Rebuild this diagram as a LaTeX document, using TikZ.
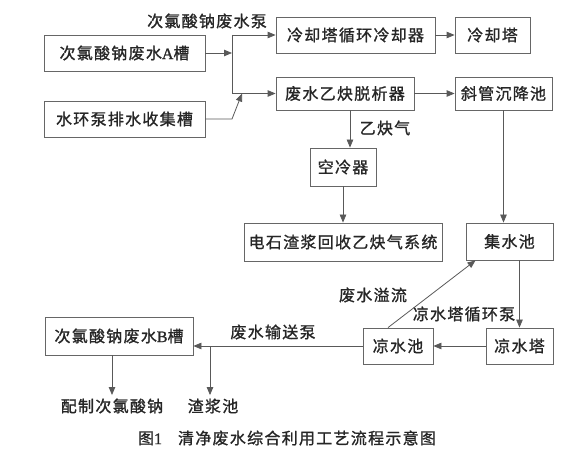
\documentclass[tikz,border=0pt]{standalone}
\usepackage{fontspec}
\setmainfont{Noto Sans CJK SC}[LetterSpace=8, FakeBold=1.2]
\newfontfamily\lat{Liberation Serif}[FakeBold=1.2]
\usetikzlibrary{arrows.meta}

\begin{document}
\begin{tikzpicture}[x=1pt, y=-1pt, every node/.style={font=\fontsize{16}{19}\selectfont, text=black!85},
  box/.style={draw=black!60, line width=0.8pt, inner sep=0pt, minimum height=36pt},
  arr/.style={black!65, line width=0.8pt, -{Triangle[length=8pt,width=6.5pt]}}]
  \useasboundingbox (0,0) rectangle (581,454);
  \node[box, minimum width=161pt] (atank) at (124.5,53) {次氯酸钠废水{\lat A}槽};
  \node[box, minimum width=161pt] (wtank) at (124.5,119) {水环泵排水收集槽};
  \node[box, minimum width=159pt] (cooler) at (355.5,35) {冷却塔循环冷却器};
  \node[box, minimum width=75pt] (tower) at (492.5,35) {冷却塔};
  \node[box, minimum width=138pt, minimum height=33pt] (strip) at (345,93.5) {废水乙炔脱析器};
  \node[box, minimum width=97pt, minimum height=33pt] (settle) at (503.5,93.5) {斜管沉降池};
  \node[box, minimum width=66pt, minimum height=38pt] (aircool) at (343,167) {空冷器};
  \node[box, minimum width=198pt, minimum height=38pt] (recov) at (343,242) {电石渣浆回收乙炔气系统};
  \node[box, minimum width=87pt, minimum height=37pt] (collect) at (509.5,241.5) {集水池};
  \node[box, minimum width=67pt] (ctower) at (519.5,346) {凉水塔};
  \node[box, minimum width=70pt] (cpool) at (398,346) {凉水池};
  \node[box, minimum width=148pt, minimum height=38pt] (btank) at (119,336) {次氯酸钠废水{\lat B}槽};
  % labels
  \node (pumplbl) at (207,21) {次氯酸钠废水泵};
  \node (gaslbl) at (385,128) {乙炔气};
  \node (ovflbl) at (373,295) {废水溢流};
  \node (cpumplbl) at (464,314) {凉水塔循环泵};
  \node (tpumplbl) at (273,332) {废水输送泵};
  \node (make) at (112,406) {配制次氯酸钠};
  \node (slag) at (213,406) {渣浆池};
  \node (cap) at (287,438) {图{\lat 1}\quad 清净废水综合利用工艺流程示意图};
  % junctions
  \coordinate (jtop) at (232,35);
  \coordinate (jbot) at (232,93.5);
  \coordinate (jin) at (242,93.5);
  \coordinate (wbend) at (232,119);
  \coordinate (split) at (210,346);
  \draw[black!65, line width=0.8pt] (jtop) -- (jbot);
  \draw[arr] (atank.east) -- (atank.east -| jtop);
  \draw[arr] (jtop) -- (cooler.west);
  \draw[arr] (jbot) -- (strip.west);
  \draw[arr] (wtank.east) -- (wbend) -- (jin);
  \draw[arr] (cooler) -- (tower);
  \draw[arr] (strip) -- (settle);
  \draw[arr] ([xshift=5pt]strip.south) -- ([xshift=5pt]strip.south |- aircool.north);
  \draw[arr] (aircool) -- (recov);
  \draw[arr] (settle.south) -- (settle.south |- collect.north);
  \draw[arr] (ctower.north |- collect.south) -- (ctower.north);
  \draw[arr] ([xshift=-10pt]cpool.north) -- ([xshift=-34pt]collect.south);
  \draw[arr] (ctower) -- (cpool);
  \draw[arr] (cpool.west) -- (cpool.west -| btank.east);
  \draw[arr] (split) -- (split |- slag.north);
  \draw[arr] (btank.south -| make) -- (make.north);
\end{tikzpicture}
\end{document}
